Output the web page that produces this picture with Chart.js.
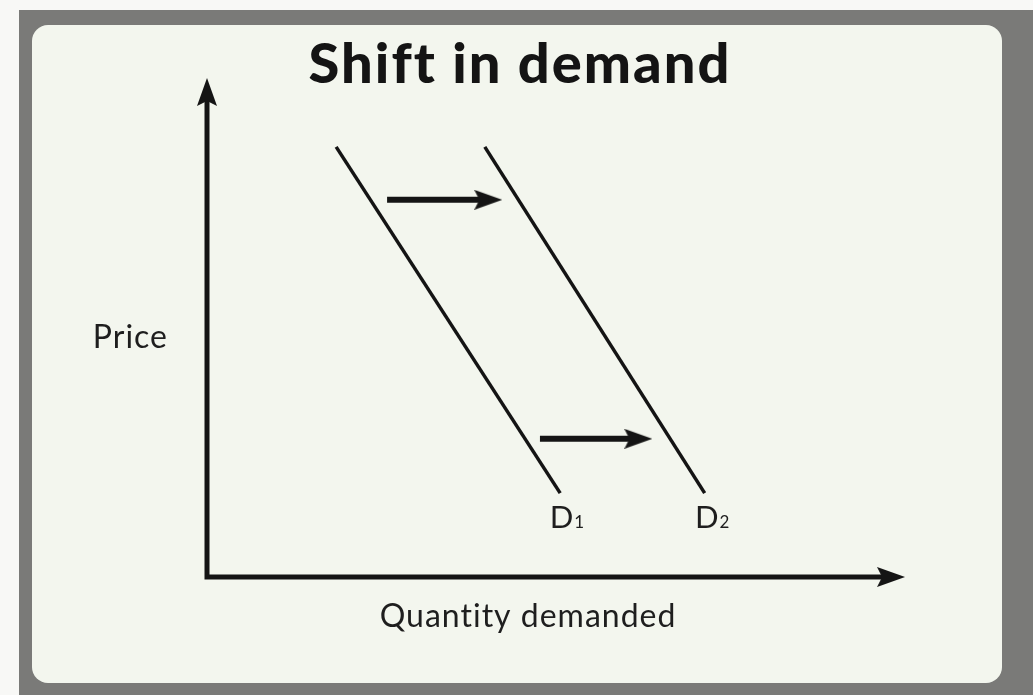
<!DOCTYPE html>
<html>
<head>
<meta charset="utf-8">
<script src="https://cdn.jsdelivr.net/npm/chart.js@4"></script>
<style>
  html, body { margin: 0; padding: 0; background: #f8f8f6; }
  #frame { position: absolute; left: 19px; top: 10px; width: 1014px; height: 685px; background: #7a7a78; }
  #panel { position: absolute; left: 32px; top: 25px; width: 970px; height: 658px; background: #f3f6ee; border-radius: 16px; }
  #chart { position: absolute; left: 0; top: 0; }
</style>
</head>
<body>
<div id="frame"></div>
<div id="panel"></div>
<canvas id="chart" width="1033" height="695"></canvas>
<script>
// quantity (x) and price (y) on a 0..100 scale
const axisQ = [0, 0, 98];
const axisP = [97.2, 0, 0];

const d1Q = [18.5, 50.6];
const d1P = [86.2, 16.8];
const d2Q = [39.8, 71.3];
const d2P = [86.2, 16.8];

const shiftTopQ = [25.8, 40.3];
const shiftTopP = 75.6;
const shiftLowQ = [47.7, 61.8];
const shiftLowP = 27.7;

const curveNames = ['D', 'D'];
const curveSubs = ['1', '2'];
const curveLabelQ = [49.1, 69.9];
const curveLabelP = 9.8;

const titleText = 'Shift in demand';
const priceLabel = 'Price';
const quantityLabel = 'Quantity demanded';

const ink = '#141414';
const textInk = '#1e1e1e';

const pts = (xs, ys) => xs.map((x, i) => ({ x: x, y: Array.isArray(ys) ? ys[i] : ys }));

// arrow head used as point style
const head = document.createElement('canvas');
head.width = 28;
head.height = 20;
const hc = head.getContext('2d');
hc.fillStyle = ink;
hc.beginPath();
hc.moveTo(28, 10);
hc.lineTo(0, 0);
hc.lineTo(5, 10);
hc.lineTo(0, 20);
hc.closePath();
hc.fill();

const lineDs = (data, width) => ({
  data: data,
  showLine: true,
  borderColor: ink,
  borderWidth: width,
  borderJoinStyle: 'miter',
  pointRadius: 0,
  clip: false
});

const headDs = (data, rot) => ({
  data: data,
  showLine: false,
  pointStyle: head,
  pointRadius: 10,
  rotation: rot,
  clip: false
});

const labelPlugin = {
  id: 'labels',
  afterDatasetsDraw(chart) {
    const ctx = chart.ctx;
    const xs = chart.scales.x, ys = chart.scales.y;
    ctx.save();
    ctx.fillStyle = ink;

    ctx.font = '900 56px Lato';
    ctx.letterSpacing = '2px';
    ctx.textAlign = 'center';
    ctx.textBaseline = 'alphabetic';
    ctx.fillText(titleText, 520, 83);

    ctx.fillStyle = textInk;
    ctx.font = '32px Lato';
    ctx.letterSpacing = '1px';
    ctx.textAlign = 'right';
    ctx.textBaseline = 'middle';
    ctx.fillText(priceLabel, xs.getPixelForValue(0) - 39, ys.getPixelForValue(47.9));

    ctx.textAlign = 'center';
    ctx.textBaseline = 'alphabetic';
    ctx.fillText(quantityLabel, xs.getPixelForValue(46), ys.getPixelForValue(0) + 50);

    ctx.letterSpacing = '0px';
    ctx.textAlign = 'left';
    curveNames.forEach((n, i) => {
      const x = xs.getPixelForValue(curveLabelQ[i]);
      const y = ys.getPixelForValue(curveLabelP);
      ctx.font = '31px Lato';
      ctx.fillText(n, x, y);
      const w = ctx.measureText(n).width;
      ctx.font = '17px Lato';
      ctx.fillText(curveSubs[i], x + w + 1, y);
    });
    ctx.restore();
  }
};

new Chart(document.getElementById('chart'), {
  type: 'scatter',
  data: {
    datasets: [
      lineDs(pts(axisQ, axisP), 5),
      headDs([{ x: axisQ[0], y: axisP[0] }], -90),
      headDs([{ x: axisQ[2], y: axisP[2] }], 0),
      lineDs(pts(d1Q, d1P), 3.5),
      lineDs(pts(d2Q, d2P), 3.5),
      lineDs(pts(shiftTopQ, shiftTopP), 6),
      headDs([{ x: shiftTopQ[1], y: shiftTopP }], 0),
      lineDs(pts(shiftLowQ, shiftLowP), 6),
      headDs([{ x: shiftLowQ[1], y: shiftLowP }], 0)
    ]
  },
  options: {
    responsive: false,
    animation: false,
    layout: { padding: { left: 207, right: 128, top: 78, bottom: 118 } },
    scales: {
      x: { type: 'linear', min: 0, max: 100, display: false },
      y: { type: 'linear', min: 0, max: 100, display: false }
    },
    plugins: { legend: { display: false }, tooltip: { enabled: false } }
  },
  plugins: [labelPlugin]
});
</script>
</body>
</html>
